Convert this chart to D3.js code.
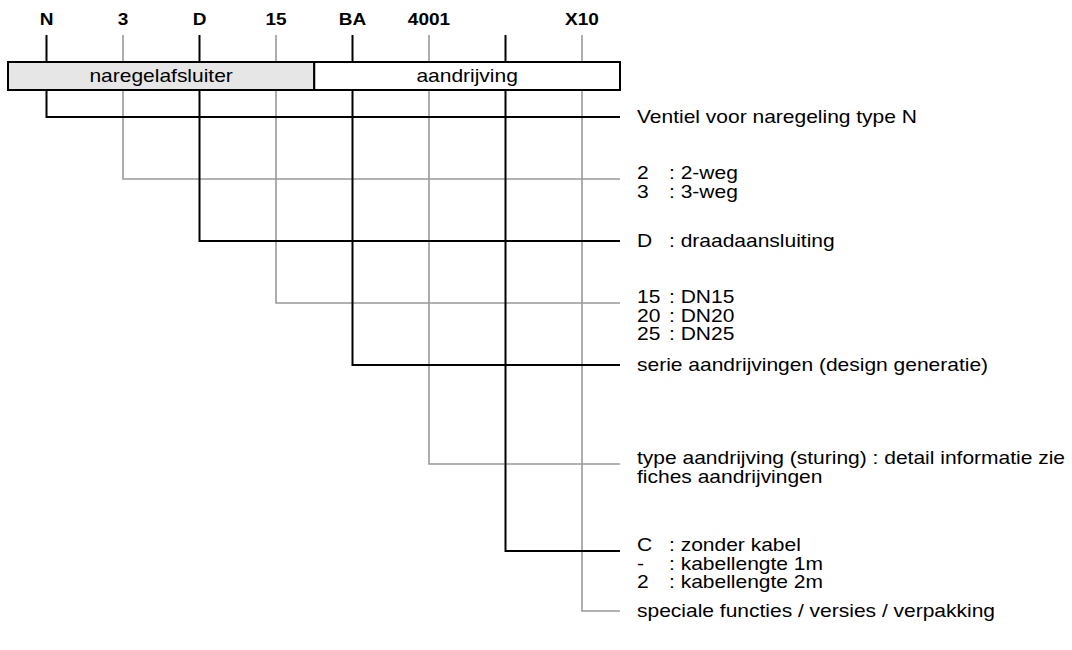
<!DOCTYPE html>
<html>
<head>
<meta charset="utf-8">
<script src="https://cdn.jsdelivr.net/npm/d3@7/dist/d3.min.js"></script>
<style>
  html, body { margin: 0; padding: 0; background: #fff; }
  svg { display: block; }
  text { font-family: Arial, "Liberation Sans", Helvetica, sans-serif; fill: #000; }
</style>
</head>
<body>
<svg id="chart" width="1072" height="650"></svg>
<script>
// ---- data ----
const codes = ["N", "3", "D", "15", "BA", "4001", "", "X10"];
const segments = ["naregelafsluiter", "aandrijving"];
const segmentSpans = [[0, 3], [4, 7]]; // code indices covered by each segment
const optionCodes = [
  [""],
  ["2", "3"],
  ["D"],
  ["15", "20", "25"],
  [""],
  ["", ""],
  ["C", "-", "2"],
  [""]
];
const optionTexts = [
  ["Ventiel voor naregeling type N"],
  [": 2-weg", ": 3-weg"],
  [": draadaansluiting"],
  [": DN15", ": DN20", ": DN25"],
  ["serie aandrijvingen (design generatie)"],
  ["type aandrijving (sturing) : detail informatie zie", "fiches aandrijvingen"],
  [": zonder kabel", ": kabellengte 1m", ": kabellengte 2m"],
  ["speciale functies / versies / verpakking"]
];

// ---- layout ----
const svg = d3.select("#chart");
const x = d3.scalePoint().domain(d3.range(codes.length)).range([46.5, 582]);
const legY = [117, 179, 241, 303, 365, 464, 551, 611];
const boxLeft = 8, boxRight = 620, boxTop = 62, boxBottom = 90;
const labelX = 637, colonX = 669, lineH = 18.5;
const fs = 17.5, sx = 1.2;          // body font size and horizontal stretch
const black = "#000", grey = "#999";
const col = i => (i % 2 === 0 ? black : grey);
const sw = i => (i % 2 === 0 ? 2 : 1.6);
const divX = (x(segmentSpans[0][1]) + x(segmentSpans[1][0])) / 2;

function stretchedText(sel, tx, ty, str, opts = {}) {
  const t = sel.append("text")
    .attr("transform", `translate(${tx},${ty}) scale(${opts.sx || sx},1)`)
    .attr("dy", opts.dy || "0.35em")
    .attr("text-anchor", opts.anchor || "start")
    .style("font-size", (opts.fs || fs) + "px")
    .text(str);
  if (opts.bold) t.style("font-weight", "bold");
  return t;
}

// header code labels
const hdr = svg.append("g");
codes.forEach((c, i) => stretchedText(hdr, x(i), 25, c,
  { anchor: "middle", bold: true, fs: 17, sx: 1.12, dy: "0" }));

// ticks above the box
svg.append("g").selectAll("line").data(codes).join("line")
  .attr("x1", (d, i) => x(i)).attr("x2", (d, i) => x(i))
  .attr("y1", 35).attr("y2", boxTop)
  .attr("stroke", (d, i) => col(i)).attr("stroke-width", (d, i) => sw(i));

// legs below the box
const legs = svg.append("g").selectAll("path").data(codes).join("path")
  .attr("d", (d, i) => `M${x(i)},${boxBottom}V${legY[i]}H${boxRight}`)
  .attr("fill", "none")
  .attr("stroke", (d, i) => col(i)).attr("stroke-width", (d, i) => sw(i));
legs.filter((d, i) => i % 2 === 0).raise();

// segment boxes
const segX = [[boxLeft, divX], [divX, boxRight]];
svg.append("g").selectAll("rect").data(segments).join("rect")
  .attr("x", (d, i) => segX[i][0])
  .attr("y", boxTop)
  .attr("width", (d, i) => segX[i][1] - segX[i][0])
  .attr("height", boxBottom - boxTop)
  .attr("fill", (d, i) => (i === 0 ? "#e6e6e6" : "#fff"))
  .attr("stroke", black).attr("stroke-width", 2);
const segG = svg.append("g");
segments.forEach((s, i) => stretchedText(segG, (segX[i][0] + segX[i][1]) / 2,
  (boxTop + boxBottom) / 2, s, { anchor: "middle" }));

// descriptions
const descG = svg.append("g");
optionTexts.forEach((lines, gi) => {
  const y0 = legY[gi] - (lines.length > 1 ? 6 : 0);
  lines.forEach((t, li) => {
    const code = optionCodes[gi][li];
    const yy = y0 + li * lineH;
    if (code !== "") {
      stretchedText(descG, labelX, yy, code);
      stretchedText(descG, colonX, yy, t);
    } else {
      stretchedText(descG, labelX, yy, t);
    }
  });
});
</script>
</body>
</html>
